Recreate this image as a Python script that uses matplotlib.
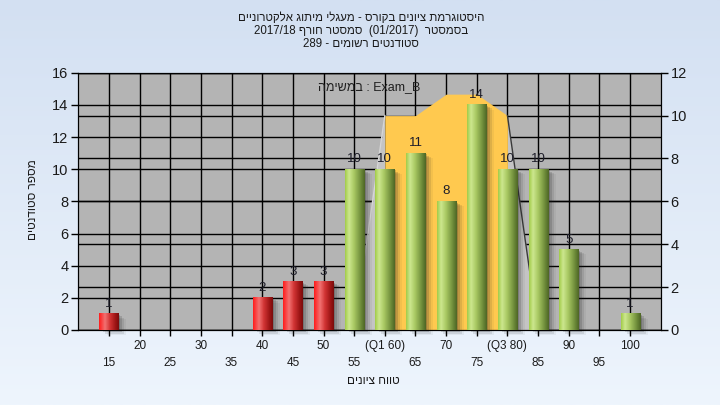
#!/usr/bin/env python3
"""Grade histogram with Q1-Q3 area, two y axes."""
import re
import matplotlib
matplotlib.use('Agg')
import matplotlib.pyplot as plt
import numpy as np
from matplotlib.colors import LinearSegmentedColormap
from matplotlib.transforms import blended_transform_factory, offset_copy

plt.rcParams['font.family'] = ['Liberation Sans', 'DejaVu Sans']

# ---- data ----
grades = [15, 20, 25, 30, 35, 40, 45, 50, 55, 60, 65, 70, 75, 80, 85, 90, 95, 100]
tick_labels = ['15', '20', '25', '30', '35', '40', '45', '50', '55', '(Q1 60)',
               '65', '70', '75', '(Q3 80)', '85', '90', '95', '100']
counts = [1, 0, 0, 0, 0, 2, 3, 3, 10, 10, 11, 8, 14, 10, 10, 5, 0, 1]
pass_grade = 55

# area series (right axis) - grade range 55..85
area_grades = [55, 60, 65, 70, 75, 80, 85]
area_values = [0, 10, 10, 11, 11, 10, 0]
q1, q3 = 60, 80

title_lines = ['היסטוגרמת ציונים בקורס - מעגלי מיתוג אלקטרוניים',
               'בסמסטר  (01/2017)  סמסטר חורף 2017/18',
               'סטודנטים רשומים - 289']
xlabel = 'טווח ציונים'
ylabel = 'מספר סטודנטים'
note = 'במשימה : Exam_B'

left_ticks = list(range(0, 17, 2))
right_ticks = list(range(0, 13, 2))


def visual(s):
    # matplotlib has no bidi: flip the Hebrew runs so they read right to left
    return re.sub(r'[\u0590-\u05FF](?:[\u0590-\u05FF\s\-:]*[\u0590-\u05FF])?',
                  lambda m: m.group(0)[::-1], s)


def rtl(s):
    # right-to-left line: flip everything, then put numbers/latin back in order
    r = s[::-1]
    r = re.sub(r'[0-9A-Za-z_/.]+', lambda m: m.group(0)[::-1], r)
    return r.translate(str.maketrans('()', ')('))


# ---- figure ----
fig = plt.figure(figsize=(7.2, 4.05), dpi=100)

# background gradient
bg = fig.add_axes([0, 0, 1, 1], zorder=-10)
bg_cmap = LinearSegmentedColormap.from_list('bg', ['#d3e0f2', '#eef5fd'])
bg.imshow(np.linspace(0, 1, 256).reshape(-1, 1), cmap=bg_cmap, aspect='auto',
          extent=(0, 1, 0, 1))
bg.axis('off')

ax = fig.add_axes([0.1088, 0.1852, 0.8088, 0.6353])
ax2 = ax.twinx()
ax.set_zorder(ax2.get_zorder() + 1)
ax.patch.set_visible(False)
ax2.patch.set_visible(True)
ax2.patch.set_facecolor('#b4b4b4')

x = np.arange(len(grades))
pos = {g: i for i, g in enumerate(grades)}

ax.set_xlim(-1, len(grades))
ax.set_ylim(0, 16)
ax2.set_ylim(0, 12)

# grid lines (drawn on the bottom axes so the area covers them)
vtrans = blended_transform_factory(ax2.transData, ax2.transAxes)
ax2.vlines(x, 0, 1, transform=vtrans, color='black', lw=1, zorder=1)
ltrans = blended_transform_factory(ax2.transAxes, ax.transData)
ax2.hlines(left_ticks, 0, 1, transform=ltrans, color='black', lw=1, zorder=1)
ax2.hlines(right_ticks, 0, 1, transform=ax2.get_yaxis_transform(), color='black', lw=1, zorder=1)

# area series
ax_x = np.array([pos[g] for g in area_grades])
ax_v = np.array(area_values, dtype=float)
i1, i3 = area_grades.index(q1), area_grades.index(q3)
ax2.fill_between(ax_x[:i1 + 1], 0, ax_v[:i1 + 1], color='#c4c4c4', lw=0, zorder=2)
ax2.fill_between(ax_x[i3:], 0, ax_v[i3:], color='#c4c4c4', lw=0, zorder=2)
ax2.fill_between(ax_x[i1:i3 + 1], 0, ax_v[i1:i3 + 1], color='#ffc94f', lw=0, zorder=2)
ax2.plot(ax_x[:i1 + 1], ax_v[:i1 + 1], color='#d6d6d6', lw=1, zorder=2.5)
ax2.plot(ax_x[i3:], ax_v[i3:], color='#3a3a3a', lw=1, zorder=2.5)

# bars with gradient and shadow
green_cmap = LinearSegmentedColormap.from_list(
    'g', [(0, '#a2cc48'), (0.2, '#cde78f'), (0.45, '#a9c963'), (0.8, '#6e8c3a'), (1, '#4e6626')])
red_cmap = LinearSegmentedColormap.from_list(
    'r', [(0, '#ff1c1c'), (0.3, '#f27272'), (0.55, '#d23434'), (0.85, '#9a1414'), (1, '#7a0c0c')])
grad = np.linspace(0, 1, 64).reshape(1, -1)
w = 0.62
for xi, g, c in zip(x, grades, counts):
    if c == 0:
        continue
    for dx, a in [(2, 0.2), (4, 0.16), (6, 0.1), (8, 0.05)]:
        tr = offset_copy(ax.transData, fig=fig, x=dx, y=-dx * 0.6, units='dots')
        ax.add_patch(plt.Rectangle((xi - w / 2, 0), w, c, transform=tr,
                                   facecolor='#202020', alpha=a, lw=0, zorder=2, clip_on=False))
    cmap = green_cmap if g >= pass_grade else red_cmap
    ax.imshow(grad, cmap=cmap, aspect='auto', extent=(xi - w / 2, xi + w / 2, 0, c),
              zorder=3, interpolation='bilinear')
    ax.text(xi, c + 0.25, str(c), ha='center', va='bottom', fontsize=9.5,
            color='#1e1e2a', zorder=4)

ax.set_xlim(-1, len(grades))
ax.set_ylim(0, 16)

ax.text(0.5, 0.946, visual(note), transform=ax.transAxes, ha='center', va='center',
        fontsize=9, color='#202020', zorder=5)

# axes styling
ax.set_xticks(x)
ax.set_xticklabels(tick_labels, fontsize=8.5, color='#1a1a1a')
for i, t in enumerate(ax.xaxis.get_major_ticks()):
    t.set_pad(15.5 if i % 2 == 0 else 3)
ax.tick_params(axis='x', direction='out', length=4, width=1, color='black')
ax.set_yticks(left_ticks)
ax.tick_params(axis='y', direction='out', length=5, width=1, labelsize=10.5,
               labelcolor='#1a1a1a', pad=2)
ax2.set_yticks(right_ticks)
ax2.tick_params(axis='y', direction='out', length=5, width=1, labelsize=10.5,
                labelcolor='#1a1a1a', pad=2)
for s in ax.spines.values():
    s.set_color('black')
for s in ax2.spines.values():
    s.set_color('black')

# titles
for i, line in enumerate(title_lines):
    fig.text(361 / 720, 1 - (18 + 13 * i) / 405, rtl(line), ha='center', va='center',
             fontsize=8.3, color='#1a1a1a')
fig.text(373 / 720, 1 - 381 / 405, rtl(xlabel), ha='center', va='center',
         fontsize=8.5, color='#1a1a1a')
fig.text(33 / 720, 1 - 200 / 405, rtl(ylabel), ha='center', va='center', rotation=90,
         fontsize=8.5, color='#1a1a1a')

fig.savefig('out.png', dpi=100)
